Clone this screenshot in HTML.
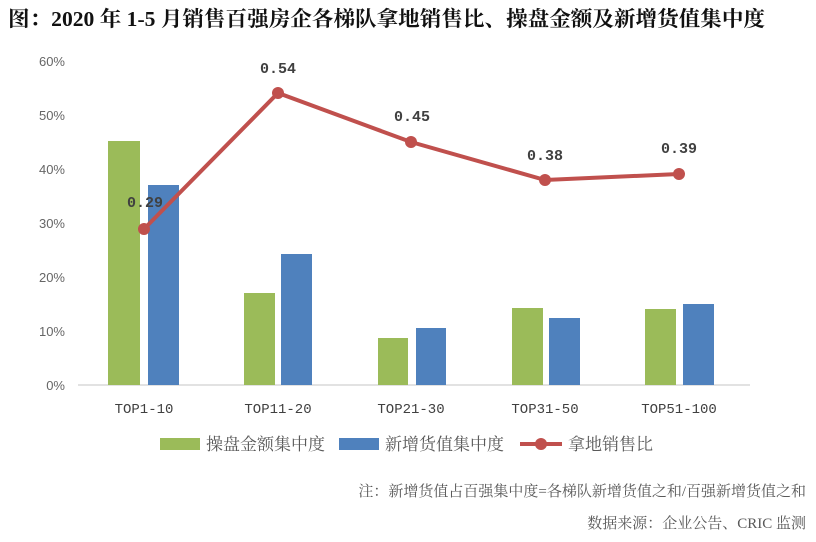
<!DOCTYPE html>
<html><head><meta charset="utf-8"><style>
body{margin:0;background:#fff;}
text{font-family:"Liberation Serif","Noto Serif CJK SC",serif;}
text.s{font-family:"Liberation Sans",sans-serif;}
text.m{font-family:"Liberation Mono",monospace;}
</style></head><body>
<svg width="816" height="537" xmlns="http://www.w3.org/2000/svg">
<text x="8" y="26" font-size="21" font-weight="bold" fill="#111" textLength="757" lengthAdjust="spacingAndGlyphs">图：2020 年 1-5 月销售百强房企各梯队拿地销售比、操盘金额及新增货值集中度</text>
<g font-size="13" fill="#666" text-anchor="end">
<text class="s" x="65" y="66">60%</text><text class="s" x="65" y="120">50%</text><text class="s" x="65" y="174">40%</text><text class="s" x="65" y="228">30%</text><text class="s" x="65" y="282">20%</text><text class="s" x="65" y="336">10%</text><text class="s" x="65" y="390">0%</text>
</g>
<line x1="78" y1="385" x2="750" y2="385" stroke="#d9d9d9" stroke-width="1.5"/>
<g fill="#9bbb59">
<rect x="108" y="141" width="32" height="244"/><rect x="244" y="293" width="31" height="92"/><rect x="378" y="338" width="30" height="47"/><rect x="512" y="308" width="31" height="77"/><rect x="645" y="309" width="31" height="76"/>
</g>
<g fill="#4f81bd">
<rect x="148" y="185" width="31" height="200"/><rect x="281" y="254" width="31" height="131"/><rect x="416" y="328" width="30" height="57"/><rect x="549" y="318" width="31" height="67"/><rect x="683" y="304" width="31" height="81"/>
</g>
<polyline points="144,229 278,93 411,142 545,180 679,174" fill="none" stroke="#c0504d" stroke-width="4"/>
<g fill="#c0504d"><circle cx="144" cy="229" r="6"/><circle cx="278" cy="93" r="6"/><circle cx="411" cy="142" r="6"/><circle cx="545" cy="180" r="6"/><circle cx="679" cy="174" r="6"/></g>
<g font-size="15" font-weight="bold" fill="#404040" text-anchor="middle">
<text class="m" x="145" y="207">0.29</text><text class="m" x="278" y="73">0.54</text><text class="m" x="412" y="121">0.45</text><text class="m" x="545" y="160">0.38</text><text class="m" x="679" y="153">0.39</text>
</g>
<g font-size="14" fill="#404040" text-anchor="middle">
<text class="m" x="144" y="413">TOP1-10</text><text class="m" x="278" y="413">TOP11-20</text><text class="m" x="411" y="413">TOP21-30</text><text class="m" x="545" y="413">TOP31-50</text><text class="m" x="679" y="413">TOP51-100</text>
</g>
<rect x="160" y="438" width="40" height="12" fill="#9bbb59"/>
<text x="206" y="450" font-size="17" fill="#595959">操盘金额集中度</text>
<rect x="339" y="438" width="40" height="12" fill="#4f81bd"/>
<text x="385" y="450" font-size="17" fill="#595959">新增货值集中度</text>
<line x1="520" y1="444" x2="562" y2="444" stroke="#c0504d" stroke-width="4"/>
<circle cx="541" cy="444" r="6" fill="#c0504d"/>
<text x="568" y="450" font-size="17" fill="#595959">拿地销售比</text>
<text x="806" y="496" font-size="15" fill="#595959" text-anchor="end">注：新增货值占百强集中度=各梯队新增货值之和/百强新增货值之和</text>
<text x="806" y="528" font-size="15" fill="#595959" text-anchor="end">数据来源：企业公告、CRIC 监测</text>
</svg>
</body></html>
